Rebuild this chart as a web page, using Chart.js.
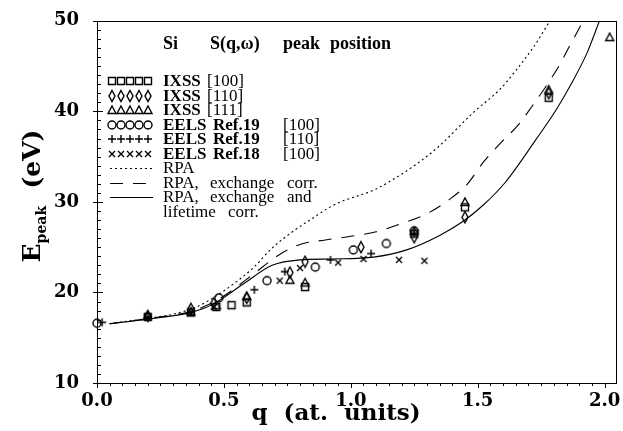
<!DOCTYPE html>
<html><head><meta charset="utf-8">
<script src="https://cdn.jsdelivr.net/npm/chart.js@4/dist/chart.umd.min.js"></script>
<style>html,body{margin:0;padding:0;background:#fff}#wrap{width:623px;height:431px;position:relative}</style>
</head><body><div id="wrap"><canvas id="c" width="623" height="431"></canvas></div>
<script>
// ---- tick labels ----
const xTickLabels = ['0.0', '0.5', '1.0', '1.5', '2.0'];
const yTickLabels = ['10', '20', '30', '40', '50'];

// ---- measured points ----
const qIxss100 = [0.20, 0.37, 0.47, 0.53, 0.59, 0.82, 1.25, 1.45, 1.78];
const eIxss100 = [17.3, 17.8, 18.4, 18.6, 18.9, 20.6, 26.5, 29.4, 41.5];

const qIxss110 = [0.20, 0.37, 0.46, 0.59, 0.76, 0.82, 1.04, 1.25, 1.45, 1.78];
const eIxss110 = [17.4, 18.2, 18.8, 19.4, 22.2, 23.4, 25.0, 26.1, 28.3, 42.0];

const qIxss111 = [0.20, 0.37, 0.47, 0.59, 0.76, 0.82, 1.25, 1.45, 1.78, 2.02];
const eIxss111 = [17.5, 17.9, 18.6, 19.6, 21.4, 21.1, 26.8, 30.0, 42.4, 48.2];

const qEels19_100 = [0.00, 0.48, 0.67, 0.86, 1.01, 1.14, 1.25];
const eEels19_100 = [16.6, 19.4, 21.3, 22.8, 24.7, 25.4, 26.8];

const qEels19_110 = [0.02, 0.20, 0.37, 0.62, 0.74, 0.92, 1.08, 1.25];
const eEels19_110 = [16.7, 17.3, 17.8, 20.3, 22.3, 23.6, 24.3, 26.5];

const qEels18_100 = [0.20, 0.37, 0.46, 0.72, 0.80, 0.95, 1.05, 1.19, 1.29];
const eEels18_100 = [17.2, 17.7, 18.4, 21.3, 22.7, 23.3, 23.7, 23.6, 23.5];

// ---- theory curves ----
const qRpa = [0.05, 0.20, 0.30, 0.40, 0.48, 0.55, 0.615, 0.69, 0.77, 0.85, 0.91, 0.96, 1.09, 1.15, 1.25, 1.35, 1.48, 1.59, 1.65, 1.72, 1.785];
const eRpa = [16.55, 17.15, 17.6, 18.5, 19.8, 21.2, 22.7, 24.9, 26.7, 28.2, 29.3, 30.0, 31.3, 32.2, 34.0, 36.2, 39.8, 42.5, 44.5, 47.1, 50.0];

const qRpaX = [0.05, 0.20, 0.37, 0.45, 0.52, 0.615, 0.72, 0.80, 0.90, 1.00, 1.10, 1.20, 1.30, 1.39, 1.46, 1.52, 1.59, 1.66, 1.71, 1.77, 1.82, 1.86, 1.916];
const eRpaX = [16.55, 17.1, 17.9, 18.8, 20.0, 22.0, 24.2, 25.3, 25.8, 26.2, 26.7, 27.6, 28.7, 30.3, 32.0, 34.3, 36.5, 38.5, 40.4, 42.8, 45.0, 47.1, 50.0];

const qRpaXL = [0.05, 0.20, 0.37, 0.45, 0.575, 0.69, 0.80, 0.93, 1.09, 1.22, 1.35, 1.44, 1.52, 1.61, 1.73, 1.81, 1.87, 1.93, 1.98];
const eRpaXL = [16.55, 17.05, 17.8, 18.6, 20.9, 23.0, 23.6, 23.7, 23.9, 24.7, 26.3, 27.8, 29.6, 32.2, 36.9, 40.2, 43.1, 46.4, 50.0];

const pts = (xs, ys) => xs.map((x, i) => ({ x: x, y: ys[i] }));

function marker(type) {
  const c = document.createElement('canvas');
  const S = 14; c.width = S; c.height = S;
  const g = c.getContext('2d');
  g.strokeStyle = '#000'; g.lineWidth = 1.4;
  const m = S / 2;
  g.beginPath();
  if (type === 'square') { g.rect(m - 3.5, m - 3.5, 7, 7); }
  else if (type === 'diamond') { g.moveTo(m, m - 5.5); g.lineTo(m + 3, m); g.lineTo(m, m + 5.5); g.lineTo(m - 3, m); g.closePath(); }
  else if (type === 'triangle') { g.moveTo(m, m - 4); g.lineTo(m + 4, m + 3.5); g.lineTo(m - 4, m + 3.5); g.closePath(); }
  else if (type === 'circle') { g.arc(m, m, 4, 0, Math.PI * 2); }
  else if (type === 'plus') { g.moveTo(m - 4, m); g.lineTo(m + 4, m); g.moveTo(m, m - 4); g.lineTo(m, m + 4); }
  else if (type === 'cross') { g.moveTo(m - 3, m - 3); g.lineTo(m + 3, m + 3); g.moveTo(m + 3, m - 3); g.lineTo(m - 3, m + 3); }
  g.stroke();
  return c;
}
const mk = {
  square: marker('square'), diamond: marker('diamond'), triangle: marker('triangle'),
  circle: marker('circle'), plus: marker('plus'), cross: marker('cross')
};

function pointSet(label, data, style) {
  return { label, data, showLine: false, pointStyle: mk[style], pointRadius: 5, pointHoverRadius: 5,
    borderColor: '#000', backgroundColor: 'rgba(0,0,0,0)', clip: false };
}
function lineSet(label, data, dash) {
  return { label, data, showLine: true, pointRadius: 0, borderColor: '#000', borderWidth: 1.1,
    borderDash: dash, cubicInterpolationMode: 'monotone', fill: false, clip: 0 };
}

const SERIF = '"DejaVu Serif", "Liberation Serif", serif';
const LSERIF = '"Liberation Serif", "DejaVu Serif", serif';

const decor = {
  id: 'decor',
  afterDraw(chart) {
    const ctx = chart.ctx, a = chart.chartArea;
    const xs = chart.scales.x, ys = chart.scales.y;
    ctx.save();
    ctx.strokeStyle = '#000'; ctx.lineWidth = 1;
    ctx.strokeRect(Math.round(a.left) + 0.5, Math.round(a.top) + 0.5, Math.round(a.right - a.left), Math.round(a.bottom - a.top));
    ctx.beginPath();
    for (let i = 0; i <= 41; i++) {
      const v = i * 0.05; if (v > xs.max) break;
      const px = Math.round(xs.getPixelForValue(v)) + 0.5;
      const major = i % 10 === 0;
      ctx.moveTo(px, a.bottom); ctx.lineTo(px, a.bottom + (major ? 5 : 3));
    }
    for (let v = 10; v <= 50; v++) {
      const py = Math.round(ys.getPixelForValue(v)) + 0.5;
      const major = v % 10 === 0;
      ctx.moveTo(a.left - (major ? 4 : 0), py); ctx.lineTo(a.left + (major ? 6 : 4), py);
    }
    ctx.stroke();

    // axis titles
    ctx.fillStyle = '#000';
    ctx.font = 'bold 23px ' + SERIF;
    ctx.textAlign = 'center'; ctx.textBaseline = 'alphabetic';
    ctx.fillText('q  (at.  units)', 336, 420);

    ctx.save();
    ctx.translate(40, 196);
    ctx.rotate(-Math.PI / 2);
    ctx.textAlign = 'left';
    const f1 = 'bold 25px ' + SERIF, f2 = 'bold 14px ' + SERIF;
    ctx.font = f1; const wE = ctx.measureText('E').width;
    ctx.font = f2; const wP = ctx.measureText('peak').width;
    ctx.font = f1; const wR = ctx.measureText('  (eV)').width;
    let x0 = -(wE + wP + wR) / 2;
    ctx.font = f1; ctx.fillText('E', x0, 0);
    ctx.font = f2; ctx.fillText('peak', x0 + wE, 6);
    ctx.font = f1; ctx.fillText('  (eV)', x0 + wE + wP, 0);
    ctx.restore();

    // in-plot legend
    ctx.textAlign = 'left'; ctx.textBaseline = 'middle';
    ctx.font = 'bold 18px ' + LSERIF;
    ctx.fillText('Si', 163, 44);
    ctx.fillText('S(q,\u03c9)', 210, 44);
    ctx.fillText('peak', 283, 44);
    ctx.fillText('position', 330, 44);

    const rows = [
      { m: 'square', t: [['IXSS', 163, true], ['[100]', 207, false]] },
      { m: 'diamond', t: [['IXSS', 163, true], ['[110]', 207, false]] },
      { m: 'triangle', t: [['IXSS', 163, true], ['[111]', 207, false]] },
      { m: 'circle', t: [['EELS', 163, true], ['Ref.19', 213, true], ['[100]', 283, false]] },
      { m: 'plus', t: [['EELS', 163, true], ['Ref.19', 213, true], ['[110]', 283, false]] },
      { m: 'cross', t: [['EELS', 163, true], ['Ref.18', 213, true], ['[100]', 283, false]] },
      { l: 'dot', t: [['RPA', 163, false]] },
      { l: 'dash', t: [['RPA,', 163, false], ['exchange', 210, false], ['corr.', 287, false]] },
      { l: 'solid', t: [['RPA,', 163, false], ['exchange', 210, false], ['and', 287, false]] },
      { t: [['lifetime', 163, false], ['corr.', 228, false]] }
    ];
    const y0 = 81, dy = 14.5;
    rows.forEach((r, i) => {
      const y = y0 + i * dy;
      if (r.m) {
        for (let k = 0; k < 5; k++) ctx.drawImage(mk[r.m], Math.round(112 + k * 9) - 7, Math.round(y) - 7);
      }
      if (r.l) {
        ctx.beginPath();
        ctx.setLineDash(r.l === 'dot' ? [2, 3] : r.l === 'dash' ? [13, 10] : []);
        ctx.moveTo(110, Math.round(y) + 0.5); ctx.lineTo(153, Math.round(y) + 0.5); ctx.stroke();
        ctx.setLineDash([]);
      }
      r.t.forEach(([s, x, b]) => {
        ctx.font = (b ? 'bold ' : '') + '17px ' + LSERIF;
        ctx.fillText(s, x, y + 1);
      });
    });
    ctx.restore();
  }
};

new Chart(document.getElementById('c'), {
  type: 'scatter',
  data: {
    datasets: [
      lineSet('RPA', pts(qRpa, eRpa), [2, 3]),
      lineSet('RPA, exchange corr.', pts(qRpaX, eRpaX), [13, 10]),
      lineSet('RPA, exchange and lifetime corr.', pts(qRpaXL, eRpaXL), []),
      pointSet('IXSS [100]', pts(qIxss100, eIxss100), 'square'),
      pointSet('IXSS [110]', pts(qIxss110, eIxss110), 'diamond'),
      pointSet('IXSS [111]', pts(qIxss111, eIxss111), 'triangle'),
      pointSet('EELS Ref.19 [100]', pts(qEels19_100, eEels19_100), 'circle'),
      pointSet('EELS Ref.19 [110]', pts(qEels19_110, eEels19_110), 'plus'),
      pointSet('EELS Ref.18 [100]', pts(qEels18_100, eEels18_100), 'cross')
    ]
  },
  options: {
    responsive: false, animation: false, devicePixelRatio: 1,
    layout: { padding: { left: 0, top: 16, right: 7, bottom: 0 } },
    plugins: { legend: { display: false }, tooltip: { enabled: false } },
    scales: {
      x: {
        type: 'linear', min: 0, max: 2.045,
        afterFit: s => { s.height = 48; },
        afterBuildTicks: s => { s.ticks = xTickLabels.map(t => ({ value: parseFloat(t) })); },
        ticks: { autoSkip: false, maxRotation: 0, padding: 0, color: '#000',
          font: { family: SERIF, size: 18, weight: 'bold' },
          callback: (v, i) => xTickLabels[i] },
        grid: { display: false }, border: { display: false }
      },
      y: {
        type: 'linear', min: 10, max: 50,
        afterFit: s => { s.width = 97; },
        afterBuildTicks: s => { s.ticks = yTickLabels.map(t => ({ value: parseFloat(t) })); },
        ticks: { autoSkip: false, padding: 10, color: '#000',
          font: { family: SERIF, size: 18, weight: 'bold' },
          callback: (v, i) => yTickLabels[i] },
        grid: { display: false }, border: { display: false }
      }
    }
  },
  plugins: [decor]
});
</script>
</body></html>
